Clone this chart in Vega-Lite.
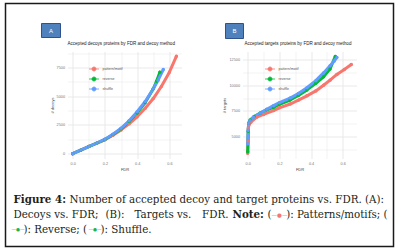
{
  "$schema": "https://vega.github.io/schema/vega-lite/v6.json",
  "padding": {"left": 4.5, "top": 2.5, "right": 0, "bottom": 0},
  "background": "white",
  "bounds": "flush",
  "spacing": 61,
  "resolve": {"scale": {"color": "independent"}, "legend": {"color": "independent"}},
  "datasets": {
    "dec": [
      {"fdr": 0, "n": 0, "method": "pattern/motif"},
      {"fdr": 0.05, "n": 300, "method": "pattern/motif"},
      {"fdr": 0.1, "n": 630, "method": "pattern/motif"},
      {"fdr": 0.15, "n": 920, "method": "pattern/motif"},
      {"fdr": 0.2, "n": 1210, "method": "pattern/motif"},
      {"fdr": 0.25, "n": 1600, "method": "pattern/motif"},
      {"fdr": 0.3, "n": 2070, "method": "pattern/motif"},
      {"fdr": 0.35, "n": 2600, "method": "pattern/motif"},
      {"fdr": 0.4, "n": 3215, "method": "pattern/motif"},
      {"fdr": 0.45, "n": 3950, "method": "pattern/motif"},
      {"fdr": 0.5, "n": 4800, "method": "pattern/motif"},
      {"fdr": 0.55, "n": 5850, "method": "pattern/motif"},
      {"fdr": 0.6, "n": 7100, "method": "pattern/motif"},
      {"fdr": 0.643, "n": 8480, "method": "pattern/motif"},
      {"fdr": 0, "n": 0, "method": "reverse"},
      {"fdr": 0.05, "n": 300, "method": "reverse"},
      {"fdr": 0.1, "n": 620, "method": "reverse"},
      {"fdr": 0.15, "n": 920, "method": "reverse"},
      {"fdr": 0.2, "n": 1230, "method": "reverse"},
      {"fdr": 0.25, "n": 1660, "method": "reverse"},
      {"fdr": 0.3, "n": 2150, "method": "reverse"},
      {"fdr": 0.35, "n": 2800, "method": "reverse"},
      {"fdr": 0.4, "n": 3550, "method": "reverse"},
      {"fdr": 0.45, "n": 4450, "method": "reverse"},
      {"fdr": 0.5, "n": 5650, "method": "reverse"},
      {"fdr": 0.52, "n": 6300, "method": "reverse"},
      {"fdr": 0.541, "n": 7100, "method": "reverse"},
      {"fdr": 0, "n": 0, "method": "shuffle"},
      {"fdr": 0.05, "n": 310, "method": "shuffle"},
      {"fdr": 0.1, "n": 620, "method": "shuffle"},
      {"fdr": 0.15, "n": 930, "method": "shuffle"},
      {"fdr": 0.2, "n": 1260, "method": "shuffle"},
      {"fdr": 0.25, "n": 1700, "method": "shuffle"},
      {"fdr": 0.3, "n": 2210, "method": "shuffle"},
      {"fdr": 0.35, "n": 2870, "method": "shuffle"},
      {"fdr": 0.4, "n": 3650, "method": "shuffle"},
      {"fdr": 0.45, "n": 4550, "method": "shuffle"},
      {"fdr": 0.5, "n": 5660, "method": "shuffle"},
      {"fdr": 0.53, "n": 6400, "method": "shuffle"},
      {"fdr": 0.562, "n": 7330, "method": "shuffle"}
    ],
    "tgt": [
      {"fdr": 0, "n": 3365, "method": "pattern/motif"},
      {"fdr": 0.002, "n": 4500, "method": "pattern/motif"},
      {"fdr": 0.004, "n": 5800, "method": "pattern/motif"},
      {"fdr": 0.008, "n": 6150, "method": "pattern/motif"},
      {"fdr": 0.02, "n": 6400, "method": "pattern/motif"},
      {"fdr": 0.057, "n": 6885, "method": "pattern/motif"},
      {"fdr": 0.1, "n": 7150, "method": "pattern/motif"},
      {"fdr": 0.163, "n": 7530, "method": "pattern/motif"},
      {"fdr": 0.2, "n": 7800, "method": "pattern/motif"},
      {"fdr": 0.268, "n": 8170, "method": "pattern/motif"},
      {"fdr": 0.32, "n": 8550, "method": "pattern/motif"},
      {"fdr": 0.374, "n": 8970, "method": "pattern/motif"},
      {"fdr": 0.43, "n": 9450, "method": "pattern/motif"},
      {"fdr": 0.479, "n": 10000, "method": "pattern/motif"},
      {"fdr": 0.52, "n": 10500, "method": "pattern/motif"},
      {"fdr": 0.563, "n": 11060, "method": "pattern/motif"},
      {"fdr": 0.61, "n": 11550, "method": "pattern/motif"},
      {"fdr": 0.654, "n": 12020, "method": "pattern/motif"},
      {"fdr": 0, "n": 3500, "method": "reverse"},
      {"fdr": 0.003, "n": 5500, "method": "reverse"},
      {"fdr": 0.006, "n": 6300, "method": "reverse"},
      {"fdr": 0.015, "n": 6600, "method": "reverse"},
      {"fdr": 0.04, "n": 6950, "method": "reverse"},
      {"fdr": 0.08, "n": 7300, "method": "reverse"},
      {"fdr": 0.12, "n": 7600, "method": "reverse"},
      {"fdr": 0.163, "n": 7850, "method": "reverse"},
      {"fdr": 0.2, "n": 8150, "method": "reverse"},
      {"fdr": 0.268, "n": 8560, "method": "reverse"},
      {"fdr": 0.32, "n": 9000, "method": "reverse"},
      {"fdr": 0.374, "n": 9550, "method": "reverse"},
      {"fdr": 0.43, "n": 10200, "method": "reverse"},
      {"fdr": 0.479, "n": 10830, "method": "reverse"},
      {"fdr": 0.52, "n": 11600, "method": "reverse"},
      {"fdr": 0.553, "n": 12820, "method": "reverse"},
      {"fdr": 0, "n": 4300, "method": "shuffle"},
      {"fdr": 0.003, "n": 5600, "method": "shuffle"},
      {"fdr": 0.006, "n": 6300, "method": "shuffle"},
      {"fdr": 0.015, "n": 6550, "method": "shuffle"},
      {"fdr": 0.036, "n": 6885, "method": "shuffle"},
      {"fdr": 0.08, "n": 7300, "method": "shuffle"},
      {"fdr": 0.12, "n": 7650, "method": "shuffle"},
      {"fdr": 0.163, "n": 8010, "method": "shuffle"},
      {"fdr": 0.2, "n": 8300, "method": "shuffle"},
      {"fdr": 0.268, "n": 8750, "method": "shuffle"},
      {"fdr": 0.32, "n": 9200, "method": "shuffle"},
      {"fdr": 0.374, "n": 9770, "method": "shuffle"},
      {"fdr": 0.43, "n": 10450, "method": "shuffle"},
      {"fdr": 0.479, "n": 11210, "method": "shuffle"},
      {"fdr": 0.52, "n": 11900, "method": "shuffle"},
      {"fdr": 0.545, "n": 12350, "method": "shuffle"},
      {"fdr": 0.563, "n": 12720, "method": "shuffle"}
    ]
  },
  "hconcat": [
    {
      "width": 114,
      "height": 107,
      "data": {"name": "dec"},
      "encoding": {
        "x": {"field": "fdr", "type": "quantitative", "scale": {"domain": [-0.032, 0.675], "nice": false, "zero": false},
          "axis": {"values": [0, 0.1, 0.2, 0.3, 0.4, 0.5, 0.6], "labelExpr": "round(datum.value*10) % 2 == 0 ? format(datum.value, '.1f') : ''", "title": "FDR",
            "gridWidth": {"condition": {"test": "round(datum.value*10) % 2 == 0", "value": 0.9}, "value": 0.5}}},
        "y": {"field": "n", "type": "quantitative", "scale": {"domain": [-420, 8900], "nice": false, "zero": false},
          "axis": {"values": [0, 1250, 2500, 3750, 5000, 6250, 7500, 8750], "labelExpr": "datum.value % 2500 == 0 ? '' + datum.value : ''", "title": "# decoys",
            "gridWidth": {"condition": {"test": "datum.value % 2500 == 0", "value": 0.9}, "value": 0.5}}}
      },
      "layer": [
        {"mark": {"type": "line", "strokeWidth": 3, "strokeCap": "round", "strokeJoin": "round"},
          "encoding": {"color": {"field": "method", "type": "nominal", "scale": {"domain": ["pattern/motif", "reverse", "shuffle"], "range": ["#F8766D", "#00BA38", "#619CFF"]},
            "legend": {"orient": "none", "legendX": 21, "legendY": 12}}}},
        {"mark": {"type": "point", "filled": true, "size": 12, "opacity": 1},
          "encoding": {"color": {"field": "method", "type": "nominal", "scale": {"domain": ["pattern/motif", "reverse", "shuffle"], "range": ["#F8766D", "#00BA38", "#619CFF"]},
            "legend": {"orient": "none", "legendX": 21, "legendY": 12}}}},
        {
          "data": {"values": [{"t": "Accepted decoys proteins by FDR and decoy method"}]},
          "mark": {"type": "text", "align": "left", "baseline": "middle", "fontSize": 4.55, "font": "Liberation Sans", "fill": "#222222"},
          "encoding": {"text": {"field": "t"}, "x": {"value": 0}, "y": {"value": -8}}
        },
        {
          "data": {"values": [{"lab": "A"}]},
          "mark": {"type": "rect", "fill": "#4f81bd", "stroke": "#2f528f", "strokeWidth": 1},
          "encoding": {"x": {"value": -26}, "x2": {"value": -7}, "y": {"value": -28}, "y2": {"value": -14}}
        },
        {
          "data": {"values": [{"lab": "A"}]},
          "mark": {"type": "text", "fill": "white", "fontSize": 6, "font": "Liberation Sans", "align": "center", "baseline": "middle"},
          "encoding": {"text": {"field": "lab"}, "x": {"value": -16.5}, "y": {"value": -21}}
        },
        {
          "data": {"values": [{"k": 1}]},
          "mark": {"type": "rect", "fill": null, "stroke": "#1a1a1a", "strokeWidth": 1.5},
          "encoding": {"x": {"value": -62}, "x2": {"value": 326}, "y": {"value": -48}, "y2": {"value": 195}}
        },
        {
          "data": {"values": [{"t": "Figure 4:"}]},
          "mark": {"type": "text", "align": "left", "baseline": "middle", "font": "DejaVu Serif", "fontSize": 10.3, "fontWeight": "bold", "fill": "#231f20"},
          "encoding": {"text": {"field": "t"}, "x": {"value": -54}, "y": {"value": 148}}
        },
        {
          "data": {"values": [{"t": "Number of accepted decoy and target proteins vs. FDR. (A):"}]},
          "mark": {"type": "text", "align": "left", "baseline": "middle", "font": "DejaVu Serif", "fontSize": 10.3, "fill": "#231f20"},
          "encoding": {"text": {"field": "t"}, "x": {"value": 2}, "y": {"value": 148}}
        },
        {
          "data": {"values": [{"t": "Decoys vs. FDR;"}]},
          "mark": {"type": "text", "align": "left", "baseline": "middle", "font": "DejaVu Serif", "fontSize": 10.3, "fill": "#231f20"},
          "encoding": {"text": {"field": "t"}, "x": {"value": -54}, "y": {"value": 163}}
        },
        {
          "data": {"values": [{"t": "(B):"}]},
          "mark": {"type": "text", "align": "left", "baseline": "middle", "font": "DejaVu Serif", "fontSize": 10.3, "fill": "#231f20"},
          "encoding": {"text": {"field": "t"}, "x": {"value": 38}, "y": {"value": 163}}
        },
        {
          "data": {"values": [{"t": "Targets vs."}]},
          "mark": {"type": "text", "align": "left", "baseline": "middle", "font": "DejaVu Serif", "fontSize": 10.3, "fill": "#231f20"},
          "encoding": {"text": {"field": "t"}, "x": {"value": 67}, "y": {"value": 163}}
        },
        {
          "data": {"values": [{"t": "FDR."}]},
          "mark": {"type": "text", "align": "right", "baseline": "middle", "font": "DejaVu Serif", "fontSize": 10.3, "fill": "#231f20"},
          "encoding": {"text": {"field": "t"}, "x": {"value": 161}, "y": {"value": 163}}
        },
        {
          "data": {"values": [{"t": "Note:"}]},
          "mark": {"type": "text", "align": "left", "baseline": "middle", "font": "DejaVu Serif", "fontSize": 10.3, "fontWeight": "bold", "fill": "#231f20"},
          "encoding": {"text": {"field": "t"}, "x": {"value": 165}, "y": {"value": 163}}
        },
        {
          "data": {"values": [{"t": "("}]},
          "mark": {"type": "text", "align": "left", "baseline": "middle", "font": "DejaVu Serif", "fontSize": 10.3, "fill": "#231f20"},
          "encoding": {"text": {"field": "t"}, "x": {"value": 200}, "y": {"value": 163}}
        },
        {
          "data": {"values": [{"t": "—●—"}]},
          "mark": {"type": "text", "align": "center", "baseline": "middle", "font": "DejaVu Sans", "fontSize": 5.5, "fill": "#f07a72"},
          "encoding": {"text": {"field": "t"}, "x": {"value": 212}, "y": {"value": 163}}
        },
        {
          "data": {"values": [{"t": "): Patterns/motifs; ("}]},
          "mark": {"type": "text", "align": "right", "baseline": "middle", "font": "DejaVu Serif", "fontSize": 10.3, "fill": "#231f20"},
          "encoding": {"text": {"field": "t"}, "x": {"value": 320}, "y": {"value": 163}}
        },
        {
          "data": {"values": [{"t": "—●—"}]},
          "mark": {"type": "text", "align": "center", "baseline": "middle", "font": "DejaVu Sans", "fontSize": 4.5, "fill": "#22b14c"},
          "encoding": {"text": {"field": "t"}, "x": {"value": -49.5}, "y": {"value": 178}}
        },
        {
          "data": {"values": [{"t": "): Reverse; ("}]},
          "mark": {"type": "text", "align": "left", "baseline": "middle", "font": "DejaVu Serif", "fontSize": 10.3, "fill": "#231f20"},
          "encoding": {"text": {"field": "t"}, "x": {"value": -44}, "y": {"value": 178}}
        },
        {
          "data": {"values": [{"t": "—●—"}]},
          "mark": {"type": "text", "align": "center", "baseline": "middle", "font": "DejaVu Sans", "fontSize": 4.5, "fill": "#22b14c"},
          "encoding": {"text": {"field": "t"}, "x": {"value": 27.5}, "y": {"value": 178}}
        },
        {
          "data": {"values": [{"t": "): Shuffle."}]},
          "mark": {"type": "text", "align": "left", "baseline": "middle", "font": "DejaVu Serif", "fontSize": 10.3, "fill": "#231f20"},
          "encoding": {"text": {"field": "t"}, "x": {"value": 33}, "y": {"value": 178}}
        }
      ]
    },
    {
      "width": 114,
      "height": 107,
      "data": {"name": "tgt"},
      "encoding": {
        "x": {"field": "fdr", "type": "quantitative", "scale": {"domain": [-0.033, 0.687], "nice": false, "zero": false},
          "axis": {"values": [0, 0.1, 0.2, 0.3, 0.4, 0.5, 0.6], "labelExpr": "round(datum.value*10) % 2 == 0 ? format(datum.value, '.1f') : ''", "title": "FDR",
            "gridWidth": {"condition": {"test": "round(datum.value*10) % 2 == 0", "value": 0.9}, "value": 0.5}}},
        "y": {"field": "n", "type": "quantitative", "scale": {"domain": [2850, 13300], "nice": false, "zero": false},
          "axis": {"values": [3750, 5000, 6250, 7500, 8750, 10000, 11250, 12500], "labelExpr": "datum.value % 2500 == 0 ? '' + datum.value : ''", "title": "# targets",
            "gridWidth": {"condition": {"test": "datum.value % 2500 == 0", "value": 0.9}, "value": 0.5}}}
      },
      "layer": [
        {"mark": {"type": "line", "strokeWidth": 3, "strokeCap": "round", "strokeJoin": "round"},
          "encoding": {"color": {"field": "method", "type": "nominal", "scale": {"domain": ["pattern/motif", "reverse", "shuffle"], "range": ["#F8766D", "#00BA38", "#619CFF"]},
            "legend": {"orient": "none", "legendX": 22, "legendY": 12}}}},
        {"mark": {"type": "point", "filled": true, "size": 12, "opacity": 1},
          "encoding": {"color": {"field": "method", "type": "nominal", "scale": {"domain": ["pattern/motif", "reverse", "shuffle"], "range": ["#F8766D", "#00BA38", "#619CFF"]},
            "legend": {"orient": "none", "legendX": 22, "legendY": 12}}}},
        {
          "data": {"values": [{"t": "Accepted targets proteins by FDR and decoy method"}]},
          "mark": {"type": "text", "align": "left", "baseline": "middle", "fontSize": 4.55, "font": "Liberation Sans", "fill": "#222222"},
          "encoding": {"text": {"field": "t"}, "x": {"value": 2}, "y": {"value": -8}}
        },
        {
          "data": {"values": [{"lab": "B"}]},
          "mark": {"type": "rect", "fill": "#4f81bd", "stroke": "#2f528f", "strokeWidth": 1},
          "encoding": {"x": {"value": -17}, "x2": {"value": 1}, "y": {"value": -28}, "y2": {"value": -13}}
        },
        {
          "data": {"values": [{"lab": "B"}]},
          "mark": {"type": "text", "fill": "white", "fontSize": 6, "font": "Liberation Sans", "align": "center", "baseline": "middle"},
          "encoding": {"text": {"field": "lab"}, "x": {"value": -8}, "y": {"value": -20.5}}
        }
      ]
    }
  ],
  "config": {
    "view": {"stroke": null},
    "font": "Liberation Sans",
    "axis": {
      "domain": false,
      "ticks": false,
      "labelFontSize": 3.8,
      "labelColor": "#777777",
      "labelPadding": 3,
      "labelOverlap": false,
      "labelFont": "Liberation Sans",
      "titleFontSize": 4,
      "titleFontWeight": "normal",
      "titleColor": "#444444",
      "titleFont": "Liberation Sans",
      "titlePadding": 2,
      "gridColor": "#e6e6e6"
    },
    "legend": {
      "title": null,
      "labelFontSize": 3.6,
      "labelColor": "#555555",
      "labelFont": "Liberation Sans",
      "symbolType": "M-1,0H1M0.4,0A0.4,0.4,0,1,1,-0.4,0A0.4,0.4,0,1,1,0.4,0",
      "symbolSize": 100,
      "symbolStrokeWidth": 0.8,
      "rowPadding": 0,
      "labelOffset": 3,
      "padding": 0
    }
  }
}
